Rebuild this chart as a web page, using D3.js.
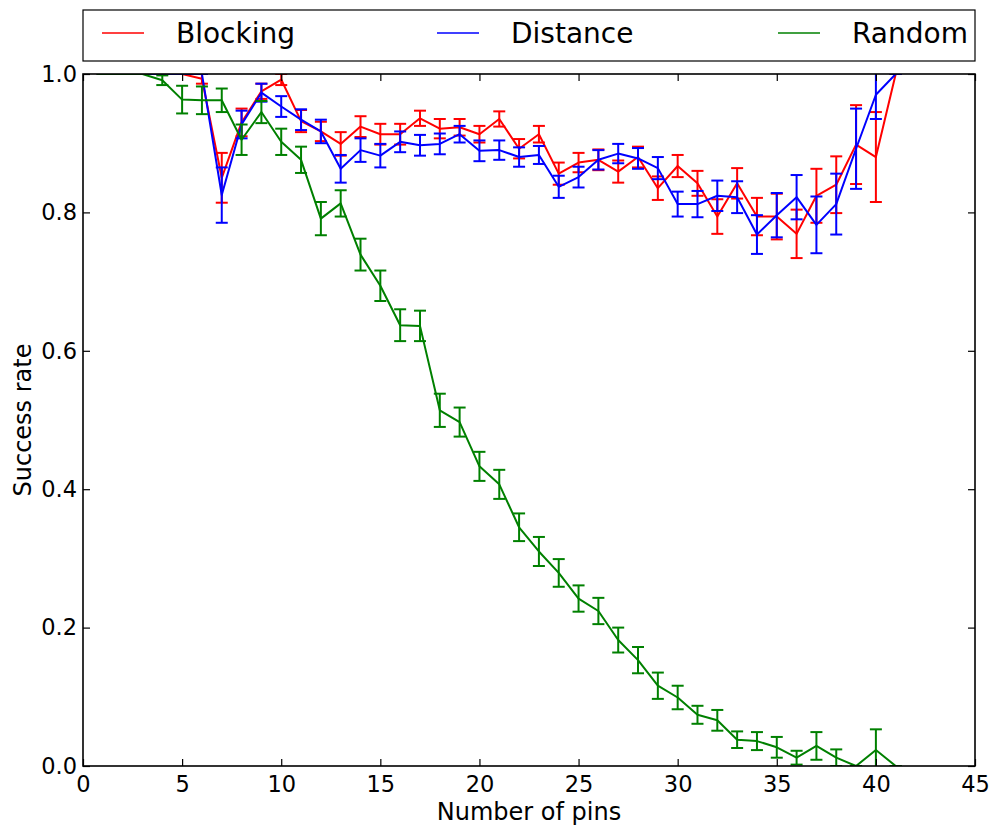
<!DOCTYPE html>
<html>
<head>
<meta charset="utf-8">
<script src="https://cdn.jsdelivr.net/npm/d3@7"></script>
<style>
  body { margin: 0; background: #fff; }
  text { font-family: 'DejaVu Sans', sans-serif; }
</style>
</head>
<body>
<div id="chart"></div>
<script>
// pins (x축)
const pins = d3.range(1, 42);

// 각 전략별 성공률과 오차 (반폭)
const blocking = [1.0, 1.0, 1.0, 1.0, 1.0, 0.993, 0.85, 0.93, 0.975, 0.992,
  0.932, 0.917, 0.899, 0.924, 0.913, 0.913, 0.936, 0.921, 0.923, 0.913,
  0.935, 0.892, 0.913, 0.856, 0.872, 0.876, 0.859, 0.880, 0.835, 0.867,
  0.842, 0.794, 0.842, 0.794, 0.794, 0.769, 0.824, 0.840, 0.898, 0.880, 1.0];
const blockingErr = [0, 0, 0, 0, 0, 0.007, 0.036, 0.02, 0.011, 0.008,
  0.016, 0.014, 0.017, 0.015, 0.015, 0.015, 0.011, 0.014, 0.012, 0.012,
  0.011, 0.014, 0.012, 0.016, 0.014, 0.015, 0.016, 0.015, 0.017, 0.016,
  0.018, 0.025, 0.022, 0.027, 0.033, 0.035, 0.039, 0.041, 0.057, 0.065, 0];

const distance = [1.0, 1.0, 1.0, 1.0, 1.0, 1.0, 0.825, 0.927, 0.973, 0.953,
  0.934, 0.917, 0.863, 0.890, 0.882, 0.902, 0.897, 0.899, 0.913, 0.889,
  0.890, 0.880, 0.883, 0.837, 0.851, 0.876, 0.885, 0.878, 0.864, 0.812,
  0.812, 0.824, 0.822, 0.768, 0.796, 0.822, 0.782, 0.812, 0.892, 0.970, 1.0];
const distanceErr = [0, 0, 0, 0, 0, 0, 0.04, 0.02, 0.013, 0.015,
  0.015, 0.017, 0.02, 0.017, 0.017, 0.015, 0.015, 0.015, 0.012, 0.015,
  0.014, 0.014, 0.013, 0.016, 0.015, 0.014, 0.014, 0.015, 0.016, 0.018,
  0.019, 0.022, 0.023, 0.028, 0.032, 0.032, 0.041, 0.044, 0.058, 0.035, 0];

const random = [1.0, 1.0, 1.0, 0.991, 0.963, 0.962, 0.962, 0.905, 0.945, 0.902,
  0.876, 0.791, 0.813, 0.739, 0.694, 0.637, 0.636, 0.514, 0.497, 0.433,
  0.407, 0.345, 0.310, 0.279, 0.242, 0.224, 0.182, 0.153, 0.116, 0.099,
  0.074, 0.066, 0.038, 0.036, 0.027, 0.012, 0.029, 0.012, 0.0, 0.023, 0.0];
const randomErr = [0, 0, 0, 0.007, 0.02, 0.02, 0.017, 0.022, 0.016, 0.019,
  0.019, 0.024, 0.019, 0.023, 0.022, 0.023, 0.022, 0.024, 0.021, 0.021,
  0.021, 0.02, 0.021, 0.02, 0.019, 0.019, 0.018, 0.019, 0.019, 0.017,
  0.013, 0.015, 0.012, 0.013, 0.015, 0.01, 0.02, 0.012, 0, 0.03, 0];

const seriesNames = ['Blocking', 'Distance', 'Random'];
const seriesColors = ['#ff0000', '#0000ff', '#008000'];
const xTicks = d3.range(0, 46, 5);
const yTicks = [0, 0.2, 0.4, 0.6, 0.8, 1.0];

const width = 997;
const height = 832;
const margin = { top: 74, left: 83, bottom: 66, right: 22 };

const series = [
  { name: seriesNames[0], color: seriesColors[0], values: blocking, errs: blockingErr },
  { name: seriesNames[1], color: seriesColors[1], values: distance, errs: distanceErr },
  { name: seriesNames[2], color: seriesColors[2], values: random, errs: randomErr },
];

const svg = d3.select('#chart').append('svg')
  .attr('width', width)
  .attr('height', height);

const x = d3.scaleLinear().domain([0, 45]).range([margin.left, width - margin.right]);
const y = d3.scaleLinear().domain([0, 1]).range([height - margin.bottom, margin.top]);

// 축 영역 밖은 잘라낸다
svg.append('clipPath').attr('id', 'plot-clip')
  .append('rect')
  .attr('x', x(0)).attr('y', y(1))
  .attr('width', x(45) - x(0)).attr('height', y(0) - y(1));

const plot = svg.append('g').attr('clip-path', 'url(#plot-clip)');
const line = d3.line().x((d) => x(d.x)).y((d) => y(d.v));
const cap = 6;

series.forEach((s) => {
  const pts = pins.map((p, i) => ({ x: p, v: s.values[i], e: s.errs[i] }));
  const g = plot.append('g');
  g.append('path')
    .datum(pts)
    .attr('d', line)
    .attr('fill', 'none')
    .attr('stroke', s.color)
    .attr('stroke-width', 2)
    .attr('stroke-linejoin', 'round');

  const bars = g.selectAll('g.err').data(pts).enter().append('g').attr('class', 'err')
    .attr('stroke', s.color).attr('stroke-width', 2);
  bars.append('line')
    .attr('x1', (d) => x(d.x)).attr('x2', (d) => x(d.x))
    .attr('y1', (d) => y(d.v - d.e)).attr('y2', (d) => y(d.v + d.e));
  bars.append('line')
    .attr('x1', (d) => x(d.x) - cap).attr('x2', (d) => x(d.x) + cap)
    .attr('y1', (d) => y(d.v + d.e)).attr('y2', (d) => y(d.v + d.e));
  bars.append('line')
    .attr('x1', (d) => x(d.x) - cap).attr('x2', (d) => x(d.x) + cap)
    .attr('y1', (d) => y(d.v - d.e)).attr('y2', (d) => y(d.v - d.e));
});

// 축: 눈금은 안쪽으로, 네 방향 모두
const tickLen = 7;
const bottomAxis = (g) => g
  .attr('transform', `translate(0, ${y(0)})`)
  .call(d3.axisBottom(x).tickValues(xTicks).tickSizeInner(-tickLen).tickSizeOuter(0).tickPadding(10))
  .call((g) => g.select('.domain').remove())
  .call((g) => g.selectAll('text').style('font-size', '22.5px').attr('fill', '#000'));

const topAxis = (g) => g
  .attr('transform', `translate(0, ${y(1)})`)
  .call(d3.axisTop(x).tickValues(xTicks).tickSizeInner(-tickLen).tickSizeOuter(0).tickFormat(''))
  .call((g) => g.select('.domain').remove());

const leftAxis = (g) => g
  .attr('transform', `translate(${x(0)}, 0)`)
  .call(d3.axisLeft(y).tickValues(yTicks).tickSizeInner(-tickLen).tickSizeOuter(0).tickPadding(6).tickFormat(d3.format('.1f')))
  .call((g) => g.select('.domain').remove())
  .call((g) => g.selectAll('text').style('font-size', '22.5px').attr('fill', '#000'));

const rightAxis = (g) => g
  .attr('transform', `translate(${x(45)}, 0)`)
  .call(d3.axisRight(y).tickValues(yTicks).tickSizeInner(-tickLen).tickSizeOuter(0).tickFormat(''))
  .call((g) => g.select('.domain').remove());

[bottomAxis, topAxis, leftAxis, rightAxis].forEach((a) => {
  svg.append('g').call(a)
    .call((g) => g.selectAll('line').attr('stroke', '#000').attr('stroke-width', 1.2));
});

// 프레임
svg.append('rect')
  .attr('x', x(0)).attr('y', y(1))
  .attr('width', x(45) - x(0)).attr('height', y(0) - y(1))
  .attr('fill', 'none').attr('stroke', '#000').attr('stroke-width', 1.6);

// 축 제목
svg.append('text')
  .attr('x', (x(0) + x(45)) / 2).attr('y', 820)
  .attr('text-anchor', 'middle')
  .style('font-size', '24px')
  .text('Number of pins');

svg.append('text')
  .attr('transform', `translate(31, ${(y(0) + y(1)) / 2}) rotate(-90)`)
  .attr('text-anchor', 'middle')
  .style('font-size', '24px')
  .text('Success rate');

// 범례 (3열, 가로로 펼침)
const legend = svg.append('g');
legend.append('rect')
  .attr('x', 83).attr('y', 10).attr('width', 892).attr('height', 51)
  .attr('fill', '#fff').attr('stroke', '#000').attr('stroke-width', 1.2);

const legendX = [102, 437, 778];
series.forEach((s, i) => {
  legend.append('line')
    .attr('x1', legendX[i]).attr('x2', legendX[i] + 42)
    .attr('y1', 33).attr('y2', 33)
    .attr('stroke', s.color).attr('stroke-width', 1.6);
  legend.append('text')
    .attr('x', legendX[i] + 74).attr('y', 43)
    .style('font-size', '28px')
    .text(s.name);
});
</script>
</body>
</html>
